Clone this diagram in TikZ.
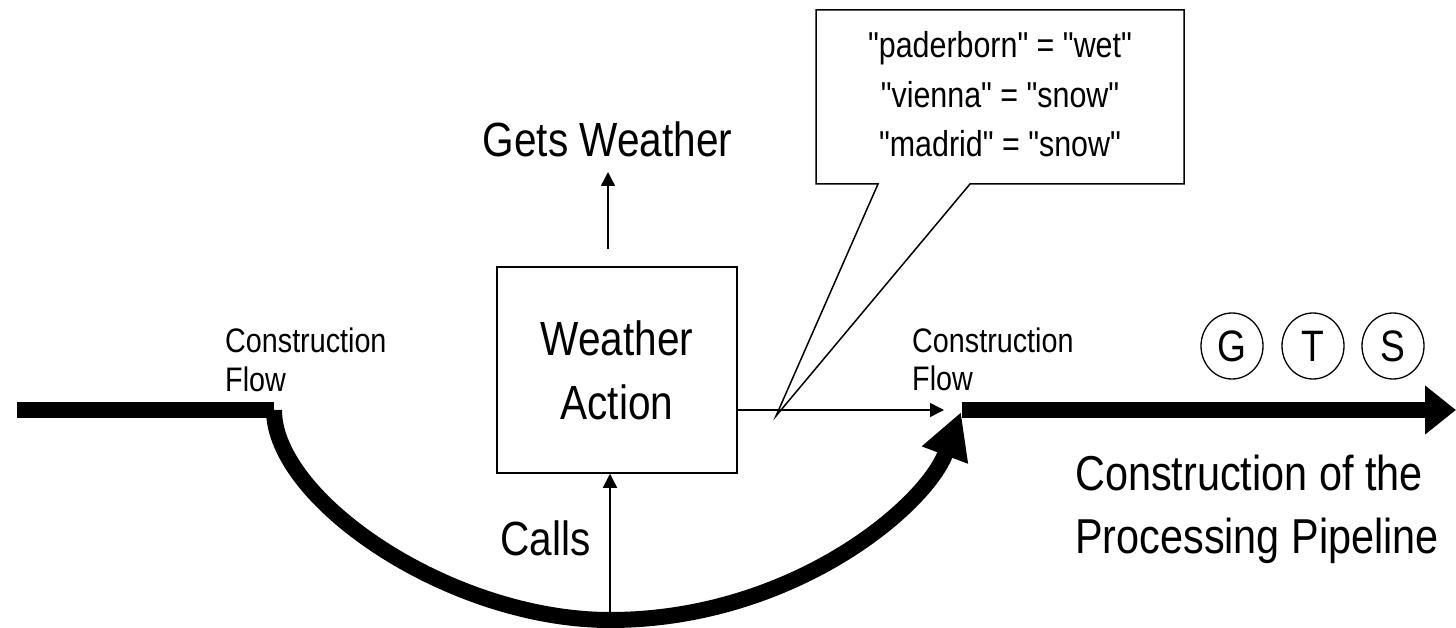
\documentclass[tikz,border=0pt]{standalone}
\usepackage{fontspec}
% condensed sans face; a plain family keeps ASCII quotes straight
\newfontfamily\drawfont{Liberation Sans}[FakeStretch=0.845]

\usetikzlibrary{arrows.meta,shapes.geometric}

\begin{document}
\begin{tikzpicture}[x=1pt,y=-1pt,
  flow/.style={line width=16pt},
  arrowline/.style={line width=1.5pt},
  thintip/.style={-{Triangle[length=14pt,width=14pt]}},
  bigtext/.style={font=\drawfont\fontsize{48}{64}\selectfont, inner sep=0pt},
  pipetext/.style={font=\drawfont\fontsize{49}{63}\selectfont, inner sep=0pt, anchor=base west},
  smalltext/.style={font=\drawfont\fontsize{34}{39}\selectfont, inner sep=0pt, anchor=base west},
  calltext/.style={font=\drawfont\fontsize{36}{50}\selectfont, inner sep=0pt, anchor=base},
  stage/.style={draw, line width=1.3pt, ellipse, minimum width=62pt, minimum height=66pt,
                inner sep=0pt, font=\drawfont\fontsize{44}{50}\selectfont},
  actionbox/.style={draw, line width=1.5pt, minimum width=240pt, minimum height=206pt,
                inner sep=0pt, align=center, font=\drawfont\fontsize{48}{64}\selectfont}
]
\useasboundingbox (0,0) rectangle (1456,628);

% junction points of the construction flow
\coordinate (inL)  at (17,410);
\coordinate (jL)   at (274,410);
\coordinate (jR)   at (962,410);
\coordinate (outR) at (1456,410);
\coordinate (bend) at (610,620);
\coordinate (getsfoot) at (608,249);

% thick construction flow
\draw[flow] (inL) -- (jL);
\draw[flow, -{Triangle[length=31pt,width=47pt]}] (jR) -- (outR);
\draw[flow, -{Triangle[length=46pt,width=46pt]}]
  (jL) .. controls (274,500) and (450,620) .. (bend)
       .. controls (790,620) and (925,508) .. ([shift={(-1,2)}]jR);

% the action
\node[actionbox] (wa) at (617,370) {Weather\\Action};

\node[bigtext, anchor=base] (gets) at (607.5,157) {Gets Weather};
\draw[arrowline, thintip, shorten >=15pt] (getsfoot) -- (getsfoot |- gets.base);

\node[bigtext, anchor=base west] (calls) at (500,555) {Calls};
\draw[arrowline, thintip] (bend) -- (bend |- wa.south);

\draw[arrowline, thintip] (wa.east |- jR) -- ([xshift=-18pt]jR);

% flow labels
\node[smalltext] (cfL1) at (225,352) {Construction};
\node[smalltext] (cfL2) at (225,391) {Flow};
\node[smalltext] (cfR1) at (912,352) {Construction};
\node[smalltext] (cfR2) at (912,390) {Flow};

\node[pipetext] (pipe1) at (1075,490) {Construction of the};
\node[pipetext] (pipe2) at (1075,553) {Processing Pipeline};

% pipeline stages
\node[stage] (g) at (1232,346) {G};
\node[stage] (t) at (1313,346) {T};
\node[stage] (s) at (1393,346) {S};

% weather data callout
\draw[line width=1.5pt, line join=miter]
  (816,10) -- (1184,10) -- (1184,184) -- (970,184) -- (776,416)
  -- (878,184) -- (816,184) -- cycle;
\node[calltext] (kv1) at (1000,58)  {"paderborn" = "wet"};
\node[calltext] (kv2) at (1000,108) {"vienna" = "snow"};
\node[calltext] (kv3) at (1000,157) {"madrid" = "snow"};
\end{tikzpicture}
\end{document}
